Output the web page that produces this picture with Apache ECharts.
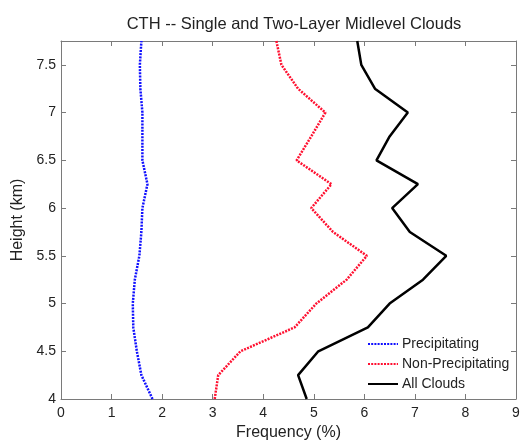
<!DOCTYPE html>
<html>
<head>
<meta charset="utf-8">
<script src="https://cdn.jsdelivr.net/npm/echarts@6/dist/echarts.min.js"></script>
<style>html,body{margin:0;padding:0;background:#fff;}#c{width:521px;height:442px;}</style>
</head>
<body>
<div id="c"></div>
<script>
const heights = [4.0,4.25,4.5,4.75,5.0,5.25,5.5,5.75,6.0,6.25,6.5,6.75,7.0,7.25,7.5,7.75];
const precipitating = [1.81,1.59,1.50,1.43,1.42,1.46,1.55,1.59,1.61,1.71,1.61,1.61,1.61,1.57,1.56,1.59];
const nonPrecipitating = [3.04,3.11,3.55,4.62,5.05,5.65,6.05,5.38,4.95,5.35,4.66,4.95,5.23,4.69,4.36,4.26];
const allClouds = [4.86,4.69,5.09,6.07,6.50,7.16,7.62,6.90,6.55,7.06,6.24,6.50,6.86,6.21,5.94,5.86];
const seriesNames = ['Precipitating','Non-Precipitating','All Clouds'];
const xTicks = [0,1,2,3,4,5,6,7,8,9];
const yTicks = [4,4.5,5,5.5,6,6.5,7,7.5];

function pairs(vals){ return vals.map((v,i)=>[v, heights[i]]); }

const font = 'Liberation Sans, Arial, Helvetica, sans-serif';
const axisCol = '#7a7a7a';
const chart = echarts.init(document.getElementById('c'), null, {renderer:'canvas'});
const baseAxis = {
  axisLine:{show:true, onZero:false, lineStyle:{color:axisCol, width:1}},
  axisTick:{show:true, inside:true, length:5, lineStyle:{color:axisCol}},
  splitLine:{show:false}
};
chart.setOption({
  animation:false,
  backgroundColor:'#fff',
  title:{text:'CTH -- Single and Two-Layer Midlevel Clouds', left:289, top:11, textAlign:'center',
    textStyle:{fontFamily:font, fontSize:16.5, fontWeight:'normal', color:'#222'}},
  grid:{left:61, right:5, top:41, bottom:43, containLabel:false, outerBoundsMode:'none'},
  legend:{
    orient:'vertical', left:367, top:337, padding:0, itemWidth:30, itemHeight:14, itemGap:6,
    data:seriesNames,
    itemStyle:{opacity:0},
    textStyle:{fontFamily:font, fontSize:14, color:'#222', padding:[0,0,0,-1]}
  },
  xAxis:[
    Object.assign({}, baseAxis, {type:'value', min:0, max:9, interval:1, position:'bottom',
      name:'Frequency (%)', nameLocation:'middle', nameGap:26,
      nameTextStyle:{fontFamily:font, fontSize:16, color:'#222'},
      axisLabel:{fontFamily:font, fontSize:14, color:'#222', margin:7,
        formatter:v=> xTicks.includes(v) ? String(v) : ''}}),
    Object.assign({}, baseAxis, {type:'value', min:0, max:9, interval:1, position:'top',
      axisLabel:{show:false}})
  ],
  yAxis:[
    Object.assign({}, baseAxis, {type:'value', min:4, max:7.75, interval:0.5, position:'left',
      name:'Height (km)', nameLocation:'middle', nameGap:33, nameRotate:90,
      nameTextStyle:{fontFamily:font, fontSize:16, color:'#222'},
      axisLabel:{fontFamily:font, fontSize:14, color:'#222', margin:5,
        formatter:v=> yTicks.includes(v) ? String(v) : ''}}),
    Object.assign({}, baseAxis, {type:'value', min:4, max:7.75, interval:0.5, position:'right',
      axisLabel:{show:false}})
  ],
  series:[
    {name:seriesNames[0], type:'line', data:pairs(precipitating), showSymbol:false, symbol:'none',
      lineStyle:{color:'#1010ff', width:2.5, type:[2,1.2]}, itemStyle:{color:'#1010ff'}},
    {name:seriesNames[1], type:'line', data:pairs(nonPrecipitating), showSymbol:false, symbol:'none',
      lineStyle:{color:'#ff1030', width:2.5, type:[2,1.2]}, itemStyle:{color:'#ff1030'}},
    {name:seriesNames[2], type:'line', data:pairs(allClouds), showSymbol:false, symbol:'none',
      lineStyle:{color:'#000', width:2.5}, itemStyle:{color:'#000'}}
  ]
});
</script>
</body>
</html>
